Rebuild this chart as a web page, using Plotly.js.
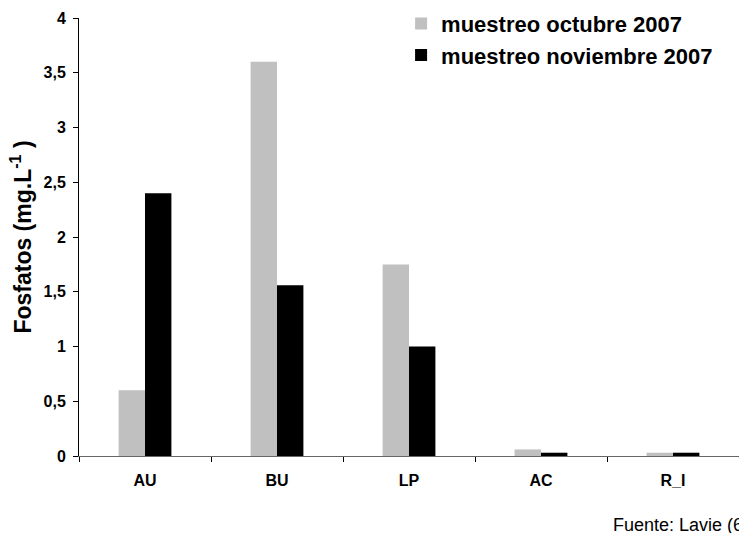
<!DOCTYPE html>
<html>
<head>
<meta charset="utf-8">
<script src="https://cdn.plot.ly/plotly-3.0.1.min.js"></script>
<style>
  html, body { margin: 0; padding: 0; background: #fff; overflow: hidden; }
  #chart { width: 739px; height: 533px; }
</style>
</head>
<body>
<div id="chart"></div>
<script>
// Sampling sites
const sites = ['AU', 'BU', 'LP', 'AC', 'R_I'];

// Phosphate concentration (mg.L-1) per sampling campaign
const octubre2007 = [0.6, 3.6, 1.75, 0.06, 0.03];
const noviembre2007 = [2.4, 1.56, 1.0, 0.03, 0.03];

const seriesNames = ['muestreo octubre 2007', 'muestreo noviembre 2007'];
const yTitle = 'Fosfatos (mg.L<sup>-1</sup> )';
const sourceNote = 'Fuente: Lavie (6';

const fontFamily = 'Liberation Sans, Arial, sans-serif';

const traces = [
  {
    type: 'bar',
    name: seriesNames[0],
    x: sites,
    y: octubre2007,
    marker: { color: '#c0c0c0', line: { width: 0 } }
  },
  {
    type: 'bar',
    name: seriesNames[1],
    x: sites,
    y: noviembre2007,
    marker: { color: '#000000', line: { width: 0 } }
  }
];

const layout = {
  width: 739,
  height: 533,
  margin: { l: 79, r: 0, t: 18, b: 77 },
  paper_bgcolor: '#ffffff',
  plot_bgcolor: '#ffffff',
  separators: ',.',
  barmode: 'group',
  bargap: 0.6,
  bargroupgap: 0,
  showlegend: true,
  legend: {
    x: 0.488,
    y: 1.035,
    xanchor: 'left',
    yanchor: 'top',
    bgcolor: 'rgba(0,0,0,0)',
    itemwidth: 30,
    tracegroupgap: 0,
    font: { family: fontFamily, size: 22, color: '#000', weight: 'bold' }
  },
  xaxis: {
    type: 'category',
    tickson: 'boundaries',
    ticks: 'outside',
    ticklen: 5,
    tickwidth: 1,
    tickcolor: '#000',
    ticklabelstandoff: 10,
    showline: true,
    linecolor: '#666',
    linewidth: 1,
    showgrid: false,
    zeroline: false,
    fixedrange: true,
    tickfont: { family: fontFamily, size: 16, color: '#000', weight: 'bold' }
  },
  yaxis: {
    range: [0, 4],
    dtick: 0.5,
    tick0: 0,
    ticks: 'outside',
    ticklen: 5,
    tickwidth: 1,
    tickcolor: '#000',
    ticklabelstandoff: 4,
    showline: true,
    linecolor: '#000',
    linewidth: 1,
    showgrid: false,
    zeroline: false,
    fixedrange: true,
    tickfont: { family: fontFamily, size: 16, color: '#000', weight: 'bold' },
    title: {
      text: yTitle,
      standoff: 5,
      font: { family: fontFamily, size: 23, color: '#000', weight: 'bold' }
    }
  },
  annotations: [
    {
      text: sourceNote,
      xref: 'paper',
      yref: 'paper',
      x: 0,
      y: -0.1575,
      xanchor: 'left',
      yanchor: 'middle',
      showarrow: false,
      font: { family: fontFamily, size: 18, color: '#000' }
    }
  ]
};

// place the source note so it starts at x = 611 px on the page
layout.annotations[0].x = (611 - layout.margin.l) / (layout.width - layout.margin.l - layout.margin.r);

Plotly.newPlot('chart', traces, layout, { displayModeBar: false, staticPlot: true });
</script>
</body>
</html>
